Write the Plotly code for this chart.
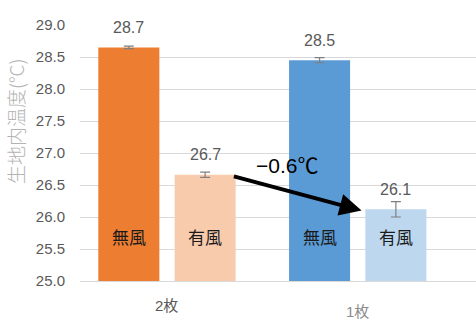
import plotly.graph_objects as go

categories = ["2枚", "1枚"]
no_wind = [28.65, 28.45]
no_wind_err = [0.02, 0.04]
wind = [26.66, 26.12]
wind_err = [0.04, 0.12]
no_wind_labels = ["28.7", "28.5"]
wind_labels = ["26.7", "26.1"]
bar_names = ["無風", "有風"]
diff_label = "−0.6℃"
y_title = "生地内温度(°C)"

FONT = "Liberation Sans, Noto Sans CJK JP, sans-serif"
JP = "Noto Sans CJK JP, sans-serif"

fig = go.Figure()
fig.add_trace(go.Bar(
    x=categories, y=no_wind, name=bar_names[0],
    marker=dict(color=["#ED7D31", "#5B9BD5"], line=dict(width=0)),
    error_y=dict(type="data", array=no_wind_err, color="#7f7f7f", thickness=1.2, width=5),
))
fig.add_trace(go.Bar(
    x=categories, y=wind, name=bar_names[1],
    marker=dict(color=["#F8CBAD", "#BDD7EE"], line=dict(width=0)),
    error_y=dict(type="data", array=wind_err, color="#7f7f7f", thickness=1.2, width=5),
))

offset = 0.2  # centre offset of each bar within its group (bargap 0.2, bargroupgap 0.2)
anns = []
for i in range(len(categories)):
    for off, vals, labs, name in ((-offset, no_wind, no_wind_labels, bar_names[0]),
                                  (offset, wind, wind_labels, bar_names[1])):
        anns.append(dict(x=i + off, y=vals[i], xref="x", yref="y", text=labs[i],
                         showarrow=False, yanchor="middle", yshift=20,
                         font=dict(family=FONT, size=16, color="#595959")))
        anns.append(dict(x=i + off, y=25.69, xref="x", yref="y", text=name,
                         showarrow=False, yanchor="middle",
                         font=dict(family=JP, size=17, color="#1a1a1a")))

# category labels
anns.append(dict(x=0, y=-0.095, xref="x", yref="paper", text=categories[0], showarrow=False,
                 yanchor="middle", font=dict(family=FONT, size=15, color="#595959")))
anns.append(dict(x=1, y=-0.12, xref="x", yref="paper", text=categories[1], showarrow=False,
                 yanchor="middle", font=dict(family=FONT, size=15, color="#8c8c8c")))

# y title
anns.append(dict(x=-0.164, y=0.625, xref="paper", yref="paper", text=y_title, showarrow=False,
                 textangle=-90, xanchor="center", yanchor="middle",
                 font=dict(family=JP, size=19, color="#b3b3b3", weight=300)))

# arrow
anns.append(dict(x=1.02, y=26.1, ax=0.343, ay=26.64, xref="x", yref="y", axref="x", ayref="y",
                 text="", showarrow=True, arrowhead=2, arrowsize=1.1, arrowwidth=4,
                 arrowcolor="#000000"))
anns.append(dict(x=0.627, y=26.8, xref="x", yref="y", text=diff_label, showarrow=False,
                 font=dict(family=FONT, size=21, color="#000000")))

fig.update_layout(
    width=476, height=326,
    margin=dict(l=80, r=0, t=25, b=45),
    paper_bgcolor="white", plot_bgcolor="white",
    barmode="group", bargap=0.2, bargroupgap=0.2,
    showlegend=False,
    annotations=anns,
    xaxis=dict(range=[-0.456, 1.62], showticklabels=False, showgrid=False,
               showline=True, linecolor="#d9d9d9", linewidth=1, ticks=""),
    yaxis=dict(range=[25, 29], dtick=0.5, tickformat=".1f", showgrid=True,
               gridcolor="#d9d9d9", gridwidth=1, zeroline=False,
               tickfont=dict(family=FONT, size=15, color="#595959"), ticks="",
               ticklabelstandoff=14),
)

fig.write_html("out.html")
